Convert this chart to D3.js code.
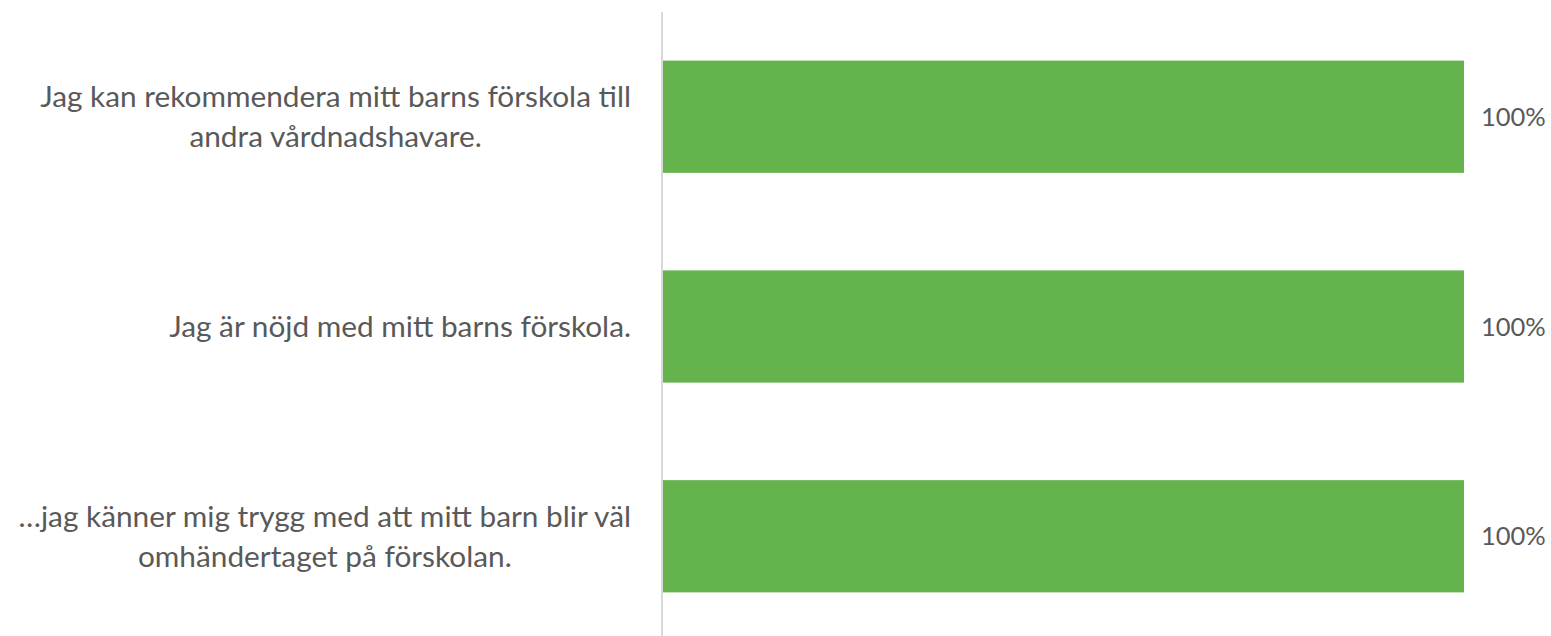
<!DOCTYPE html>
<html>
<head>
<meta charset="utf-8">
<script src="https://cdn.jsdelivr.net/npm/d3@7"></script>
<style>
  html, body { margin: 0; padding: 0; background: #fff; }
  svg { display: block; }
  text { font-family: Lato, "Open Sans", "DejaVu Sans", sans-serif; fill: #595959; }
</style>
</head>
<body>
<svg id="chart" width="1551" height="636"></svg>
<script>
// --- data -------------------------------------------------------------
var categories = [
  "Jag kan rekommendera mitt barns förskola till\nandra vårdnadshavare.",
  "Jag är nöjd med mitt barns förskola.",
  "…jag känner mig trygg med att mitt barn blir väl\nomhändertaget på förskolan."
];
var values = [1.0, 1.0, 1.0];
var valueLabels = ["100%", "100%", "100%"];

// --- layout -----------------------------------------------------------
var W = 1551, H = 636;
var axisX = 662;
var labelRight = 631;
var svg = d3.select("#chart");
var catFS = 29.8, valFS = 25.5;
var lineH = 40;

var x = d3.scaleLinear().domain([0, 1]).range([axisX + 1, 1464]);
var y = d3.scaleBand().domain(categories)
  .range([13, 640]).paddingInner(0.465).paddingOuter(0.227);

// bars
svg.selectAll(".bar").data(categories).enter().append("rect")
  .attr("class", "bar")
  .attr("x", x(0))
  .attr("y", function (c) { return y(c); })
  .attr("width", function (c, i) { return x(values[i]) - x(0); })
  .attr("height", y.bandwidth())
  .attr("fill", "#65b34c");

// vertical axis line
svg.append("line")
  .attr("x1", axisX).attr("x2", axisX)
  .attr("y1", 12).attr("y2", H)
  .attr("stroke", "#d9d9d9").attr("stroke-width", 2);

// category labels: block right aligned, lines centred within the block
categories.forEach(function (c) {
  var lines = c.split("\n");
  var cy = y(c) + y.bandwidth() / 2;
  var t = svg.append("text")
    .attr("text-anchor", "middle")
    .style("font-size", catFS + "px");
  var spans = lines.map(function (ln, k) {
    return t.append("tspan")
      .attr("y", cy + (k - (lines.length - 1) / 2) * lineH)
      .attr("dy", "0.35em")
      .text(ln);
  });
  var maxW = d3.max(spans, function (s) { return s.node().getComputedTextLength(); });
  spans.forEach(function (s) { s.attr("x", labelRight - maxW / 2); });
});

// value labels
svg.selectAll(".val").data(categories).enter().append("text")
  .attr("class", "val")
  .attr("x", function (c, i) { return x(values[i]) + 17; })
  .attr("y", function (c) { return y(c) + y.bandwidth() / 2; })
  .attr("dy", "0.36em")
  .style("font-size", valFS + "px")
  .text(function (c, i) { return valueLabels[i]; });
</script>
</body>
</html>
